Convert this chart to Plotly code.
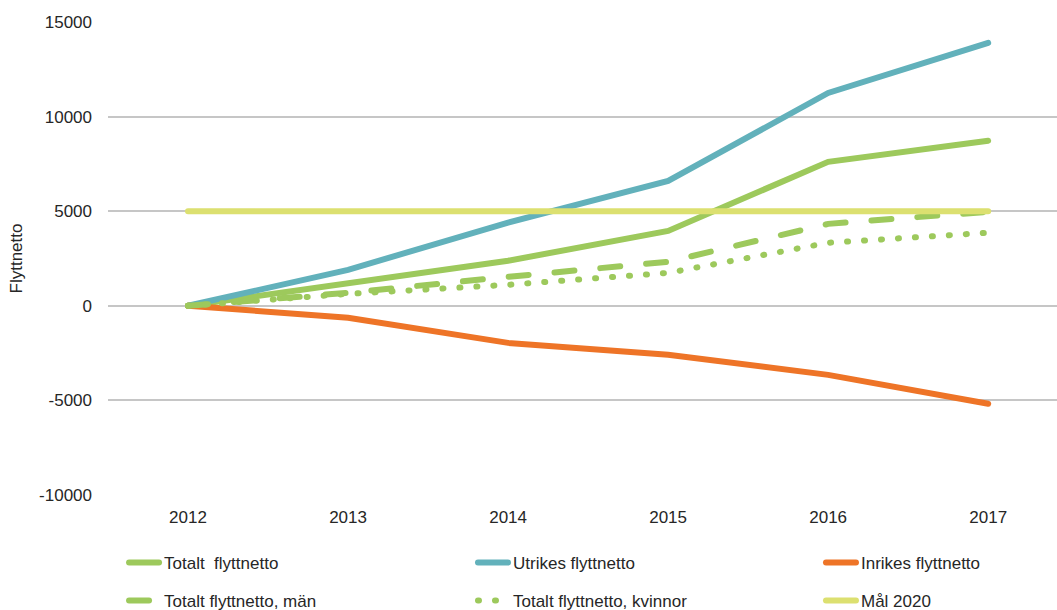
import plotly.graph_objects as go

years = ["2012", "2013", "2014", "2015", "2016", "2017"]
totalt = [0, 1200, 2380, 3960, 7610, 8720]
utrikes = [0, 1900, 4400, 6600, 11250, 13900]
inrikes = [0, -630, -1960, -2590, -3650, -5180]
man = [0, 690, 1530, 2330, 4330, 4970]
kvinnor = [0, 630, 1110, 1740, 3330, 3860]
mal2020 = [5000, 5000, 5000, 5000, 5000, 5000]
yticks = [-10000, -5000, 0, 5000, 10000, 15000]
yticklabels = ["-10000", "-5000", "0", "5000", "10000", "15000"]

GREEN = "#9DC95C"
BLUE = "#62B1BB"
ORANGE = "#EE7427"
YELLOW = "#DCE070"
W = 6

FAM = "Liberation Sans, Arial, sans-serif"
font = dict(family=FAM, size=17, color="#262626")

series = [
    ("Totalt  flyttnetto", totalt, GREEN, "solid", "legend", 0.0169, -0.1438),
    ("Utrikes flyttnetto", utrikes, BLUE, "solid", "legend2", 0.3846, -0.1438),
    ("Inrikes flyttnetto", inrikes, ORANGE, "solid", "legend3", 0.7513, -0.1438),
    ("Totalt flyttnetto, män", man, GREEN, "20px,26px", "legend4", 0.0169, -0.2241),
    ("Totalt flyttnetto, kvinnor", kvinnor, GREEN, "1px,16px", "legend5", 0.3846, -0.2241),
    ("Mål 2020", mal2020, YELLOW, "solid", "legend6", 0.7513, -0.2241),
]

xs = list(range(len(years)))
fig = go.Figure()
legends = {}
for name, vals, color, dash, leg, lx, ly in series:
    fig.add_trace(go.Scatter(x=xs, y=vals, name=name, mode="lines",
                             line=dict(color=color, width=W, dash=dash), legend=leg))
    legends[leg] = dict(orientation="h", xref="paper", yref="paper", xanchor="left",
                        yanchor="middle", x=lx, y=ly, font=font,
                        bgcolor="rgba(0,0,0,0)")

fig.update_layout(
    width=1057, height=610,
    margin=dict(l=108, r=0, t=22, b=115, autoexpand=False),
    paper_bgcolor="white", plot_bgcolor="white",
    font=font,
    showlegend=True,
    **legends,
    xaxis=dict(tickvals=xs, ticktext=years, range=[-0.5, 5.43], showgrid=False,
               zeroline=False, showline=False, ticks="", tickfont=font, automargin=False,
               ticklabelstandoff=10),
    yaxis=dict(range=[-10000, 15000], tickvals=yticks, ticktext=yticklabels,
               showgrid=True, gridcolor="#C6C6C6", gridwidth=2, zeroline=False,
               ticks="", tickfont=font, ticklabelstandoff=15, automargin=False,
               title=dict(text="Flyttnetto", font=font, standoff=12)),
)

post = ("var s=document.createElement('style');"
        "s.textContent='body{margin:0;} .js-line{stroke-linecap:round !important;}';"
        "document.head.appendChild(s);")
fig.write_html("out.html", post_script=post, config={"displayModeBar": False})
